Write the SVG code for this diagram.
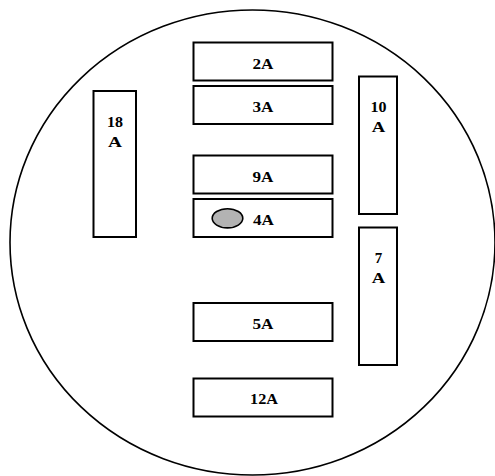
<svg xmlns="http://www.w3.org/2000/svg" width="495" height="476" viewBox="0 0 495 476">
<style>
.b{fill:#fff;stroke:#000;stroke-width:2}
.t{font-family:"Liberation Serif","Times New Roman",serif;font-weight:bold;font-size:15px;text-anchor:middle;fill:#000}
</style>
<rect width="495" height="476" fill="#fff"/>
<ellipse id="outline" cx="252.5" cy="242.5" rx="242.5" ry="232.5" fill="none" stroke="#000" stroke-width="1.6"/>
<g id="n2A"><rect class="b" x="193.5" y="42.5" width="139" height="38"/><text class="t" x="263" y="68.5" textLength="21" lengthAdjust="spacingAndGlyphs">2A</text></g>
<g id="n3A"><rect class="b" x="193.5" y="86" width="139" height="38"/><text class="t" x="263" y="111.5" textLength="21" lengthAdjust="spacingAndGlyphs">3A</text></g>
<g id="n18A"><rect class="b" x="93.5" y="91" width="42.5" height="146"/><text class="t" x="115" y="127" textLength="16" lengthAdjust="spacingAndGlyphs">18</text><text class="t" x="115" y="146.5" textLength="14" lengthAdjust="spacingAndGlyphs">A</text></g>
<g id="n10A"><rect class="b" x="359" y="76.5" width="38" height="137.5"/><text class="t" x="378.5" y="111.5" textLength="16" lengthAdjust="spacingAndGlyphs">10</text><text class="t" x="378.5" y="131.5" textLength="13.5" lengthAdjust="spacingAndGlyphs">A</text></g>
<g id="n9A"><rect class="b" x="193.5" y="155.5" width="139" height="38"/><text class="t" x="263" y="182" textLength="21" lengthAdjust="spacingAndGlyphs">9A</text></g>
<g id="n4A"><rect class="b" x="193.5" y="199" width="139" height="38"/><ellipse cx="227.5" cy="218.3" rx="15.3" ry="9.6" fill="#b3b3b3" stroke="#000" stroke-width="1.6"/><text class="t" x="263.5" y="225" textLength="21" lengthAdjust="spacingAndGlyphs">4A</text></g>
<g id="n7A"><rect class="b" x="359" y="227.5" width="38" height="137.5"/><text class="t" x="378.5" y="263" textLength="7.5" lengthAdjust="spacingAndGlyphs">7</text><text class="t" x="378.5" y="282.5" textLength="13.5" lengthAdjust="spacingAndGlyphs">A</text></g>
<g id="n5A"><rect class="b" x="193.5" y="303" width="139" height="38"/><text class="t" x="263" y="329" textLength="21" lengthAdjust="spacingAndGlyphs">5A</text></g>
<g id="n12A"><rect class="b" x="193.5" y="378.5" width="139" height="38"/><text class="t" x="264" y="404" textLength="28" lengthAdjust="spacingAndGlyphs">12A</text></g>
<g id="connectors"/>
</svg>
